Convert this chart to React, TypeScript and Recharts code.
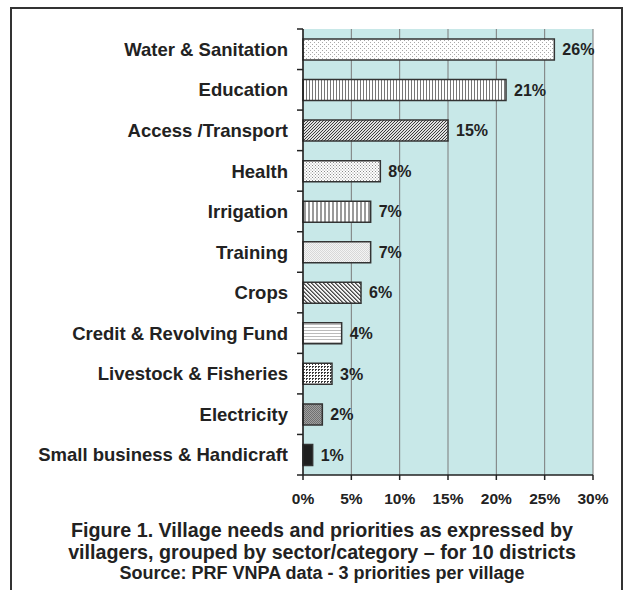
import { BarChart, Bar, XAxis, YAxis, CartesianGrid, Cell, LabelList } from "recharts";

const categories = [
  "Water & Sanitation",
  "Education",
  "Access /Transport",
  "Health",
  "Irrigation",
  "Training",
  "Crops",
  "Credit & Revolving Fund",
  "Livestock & Fisheries",
  "Electricity",
  "Small business & Handicraft",
];
const shares = [26, 21, 15, 8, 7, 7, 6, 4, 3, 2, 1];
const fills = [
  "url(#pDots)",
  "url(#pVert)",
  "url(#pDiagR)",
  "url(#pDots2)",
  "url(#pVertWide)",
  "url(#pLight)",
  "url(#pDiagL)",
  "url(#pHoriz)",
  "url(#pCross)",
  "url(#pGrey)",
  "#1f1f1f",
];
const xTicks = [0, 5, 10, 15, 20, 25, 30];

const data = categories.map((name, i) => ({ name, value: shares[i], fill: fills[i] }));

const FONT = "'Liberation Sans', Arial, sans-serif";
const TOP = 29;
const PLOT_H = 446;
const BAND = PLOT_H / categories.length;

function CategoryTick(props: any) {
  const { x, y, payload, index } = props;
  const axisX = x + 15;
  return (
    <g>
      <line x1={axisX - 6} x2={axisX} y1={y - BAND / 2} y2={y - BAND / 2} stroke="#222" strokeWidth={1.5} />
      {index === categories.length - 1 && (
        <line x1={axisX - 6} x2={axisX} y1={y + BAND / 2} y2={y + BAND / 2} stroke="#222" strokeWidth={1.5} />
      )}
      <text x={x} y={y} dy="0.36em" textAnchor="end" fontSize={18.5} fontWeight="bold" fill="#222" fontFamily={FONT}>
        {payload.value}
      </text>
    </g>
  );
}

function Patterns() {
  return (
    <svg width={0} height={0} style={{ position: "absolute" }}>
      <defs>
        <pattern id="pDots" width="4" height="4" patternUnits="userSpaceOnUse">
          <rect width="4" height="4" fill="#fff" />
          <rect x="0" y="0" width="1" height="1" fill="#a8a8a8" />
          <rect x="2" y="2" width="1" height="1" fill="#a8a8a8" />
        </pattern>
        <pattern id="pVert" width="3" height="3" patternUnits="userSpaceOnUse">
          <rect width="3" height="3" fill="#fff" />
          <rect x="0" y="0" width="1" height="3" fill="#777" />
        </pattern>
        <pattern id="pDiagR" width="3" height="3" patternUnits="userSpaceOnUse">
          <rect width="3" height="3" fill="#e0e0e0" />
          <rect x="0" y="2" width="1" height="1" fill="#3c3c3c" />
          <rect x="1" y="1" width="1" height="1" fill="#3c3c3c" />
          <rect x="2" y="0" width="1" height="1" fill="#3c3c3c" />
        </pattern>
        <pattern id="pDots2" width="3" height="3" patternUnits="userSpaceOnUse">
          <rect width="3" height="3" fill="#fff" />
          <rect x="0" y="0" width="1" height="1" fill="#8a8a8a" />
          <rect x="1.5" y="1.5" width="1" height="1" fill="#8a8a8a" />
        </pattern>
        <pattern id="pVertWide" width="4" height="4" patternUnits="userSpaceOnUse">
          <rect width="4" height="4" fill="#fff" />
          <rect x="0" y="0" width="2" height="4" fill="#9a9a9a" />
        </pattern>
        <pattern id="pLight" width="2" height="2" patternUnits="userSpaceOnUse">
          <rect width="2" height="2" fill="#f4f4f4" />
          <rect x="0" y="0" width="1" height="1" fill="#d8d8d8" />
          <rect x="1" y="1" width="1" height="1" fill="#d8d8d8" />
        </pattern>
        <pattern id="pDiagL" width="4" height="4" patternUnits="userSpaceOnUse">
          <rect width="4" height="4" fill="#f2f2f2" />
          <rect x="0" y="0" width="1" height="1" fill="#4a4a4a" />
          <rect x="1" y="1" width="1" height="1" fill="#4a4a4a" />
          <rect x="2" y="2" width="1" height="1" fill="#4a4a4a" />
          <rect x="3" y="3" width="1" height="1" fill="#4a4a4a" />
          <rect x="1" y="0" width="1" height="1" fill="#888" />
          <rect x="2" y="1" width="1" height="1" fill="#888" />
          <rect x="3" y="2" width="1" height="1" fill="#888" />
          <rect x="0" y="3" width="1" height="1" fill="#888" />
        </pattern>
        <pattern id="pHoriz" width="3" height="3" patternUnits="userSpaceOnUse">
          <rect width="3" height="3" fill="#fff" />
          <rect x="0" y="0" width="3" height="1" fill="#bbb" />
        </pattern>
        <pattern id="pCross" width="3" height="3" patternUnits="userSpaceOnUse">
          <rect width="3" height="3" fill="#fff" />
          <rect x="0" y="0" width="2" height="1" fill="#3a3a3a" />
          <rect x="0" y="0" width="1" height="2" fill="#3a3a3a" />
        </pattern>
        <pattern id="pGrey" width="2" height="2" patternUnits="userSpaceOnUse">
          <rect width="2" height="2" fill="#a0a0a0" />
          <rect x="0" y="0" width="1" height="1" fill="#707070" />
          <rect x="1" y="1" width="1" height="1" fill="#707070" />
        </pattern>
      </defs>
    </svg>
  );
}

export default function App() {
  return (
    <div style={{ position: "absolute", left: 0, top: 0, width: 630, height: 590, overflow: "hidden", background: "#fff", fontFamily: FONT }}>
      <Patterns />
      <div
        style={{
          position: "absolute",
          left: 10,
          top: 7,
          width: 609,
          height: 620,
          borderLeft: "2px solid #333",
          borderTop: "2px solid #333",
          borderRight: "2px solid #333",
        }}
      />
      <div style={{ position: "absolute", left: 0, top: 0 }}>
        <BarChart
          width={630}
          height={510}
          data={data}
          layout="vertical"
          margin={{ top: TOP, right: 37, bottom: 5, left: 0 }}
          barSize={21}
        >
          <CartesianGrid horizontal={false} stroke="#7a7a7a" fill="#c8e8e8" strokeWidth={1} />
          <XAxis
            type="number"
            domain={[0, 30]}
            ticks={xTicks}
            interval={0}
            height={30}
            tickFormatter={(v) => `${v}%`}
            tick={{ fontSize: 15.5, fontWeight: "bold", fill: "#222", fontFamily: FONT }}
            tickSize={5}
            tickMargin={13}
            axisLine={{ stroke: "#222", strokeWidth: 1.5 }}
            tickLine={{ stroke: "#222", strokeWidth: 1.5 }}
          />
          <YAxis
            type="category"
            dataKey="name"
            width={303}
            interval={0}
            tick={<CategoryTick />}
            tickLine={false}
            tickSize={5}
            tickMargin={10}
            axisLine={{ stroke: "#222", strokeWidth: 1.5 }}
          />
          <Bar dataKey="value" isAnimationActive={false} stroke="#333" strokeWidth={1.5}>
            {data.map((d, i) => (
              <Cell key={i} fill={d.fill} />
            ))}
            <LabelList
              dataKey="value"
              position="right"
              offset={8}
              formatter={(v: any) => `${v}%`}
              style={{ fontSize: 16, fontWeight: "bold", fill: "#222", fontFamily: FONT }}
            />
          </Bar>
        </BarChart>
      </div>
      <div
        style={{
          position: "absolute",
          left: 22,
          width: 600,
          top: 520,
          textAlign: "center",
          fontWeight: "bold",
          color: "#222",
          fontSize: 19.7,
          lineHeight: "21.5px",
        }}
      >
        <div>Figure 1. Village needs and priorities as expressed by</div>
        <div>villagers, grouped by sector/category – for 10 districts</div>
        <div style={{ fontSize: 18, lineHeight: "21.5px" }}>Source: PRF VNPA data - 3 priorities per village</div>
      </div>
    </div>
  );
}
